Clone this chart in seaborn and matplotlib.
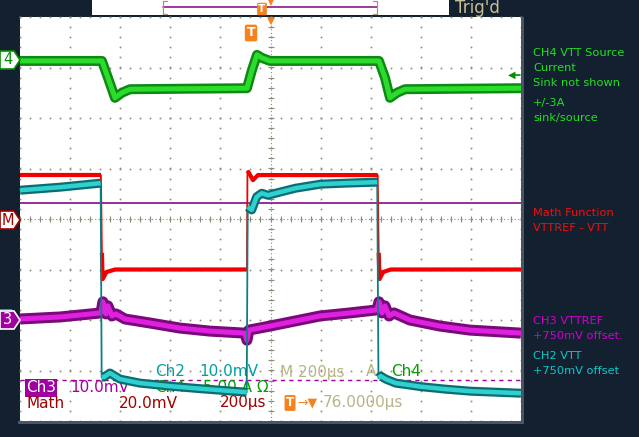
import matplotlib
matplotlib.use('Agg')
import matplotlib.pyplot as plt
from matplotlib.patches import Polygon, Rectangle
import numpy as np
import seaborn as sns

# time axis in microseconds (200 us/div, 10 div); levels in screen divisions (8 div)
ch4_t = [0, 327, 351, 379, 407, 439, 906, 926, 946, 966, 998, 1433, 1457, 1477, 1505, 1537, 2000]
ch4_v = [3.13, 3.13, 2.80, 2.40, 2.50, 2.57, 2.59, 2.95, 3.25, 3.19, 3.13, 3.13, 2.80, 2.40, 2.50, 2.57, 2.59]

math_t = [0, 323, 327, 330, 345, 380, 906, 908, 912, 930, 950, 1428, 1432, 1435, 1450, 1480, 2000]
math_v = [0.87, 0.87, -0.67, -1.19, -1.05, -1.00, -1.00, 0.90, 0.93, 0.77, 0.87, 0.87, -0.67, -1.19, -1.05, -1.00, -1.00]
math_breaks = [326, 907, 1431]

ch2_t = [0, 160, 322, 326, 335, 359, 399, 479, 599, 719, 905, 909, 925, 945, 965, 990, 1020,
         1100, 1200, 1300, 1426, 1431, 1440, 1460, 1500, 1600, 1700, 1800, 2000]
ch2_v = [0.57, 0.63, 0.71, -3.13, -3.13, -3.05, -3.17, -3.25, -3.31, -3.36, -3.43, 0.24, 0.18,
         0.44, 0.51, 0.47, 0.51, 0.61, 0.69, 0.71, 0.73, -3.15, -3.11, -3.17, -3.25, -3.32, -3.37,
         -3.41, -3.45]
ch2_breaks = [324, 907, 1428]

ch3_t = [0, 160, 323, 331, 343, 351, 367, 383, 419, 519, 639, 758, 898, 906, 914, 998, 1118,
         1198, 1317, 1425, 1433, 1445, 1457, 1473, 1493, 1556, 1676, 1796, 2000]
ch3_v = [-1.98, -1.94, -1.86, -1.64, -1.88, -1.72, -1.92, -1.88, -1.98, -2.06, -2.16, -2.22,
         -2.26, -2.40, -2.20, -2.12, -2.00, -1.92, -1.86, -1.80, -1.64, -1.86, -1.72, -1.92,
         -1.86, -2.00, -2.12, -2.20, -2.26]

math_ref = 0.32
ch3_dash = -3.19

W, H = 639, 437
BG = '#13202f'
GRID = '#8c8c78'

sns.set_style('white')
plt.rcParams['font.family'] = ['DejaVu Sans']

fig = plt.figure(figsize=(W / 100, H / 100), dpi=100, facecolor=BG)
ax = fig.add_axes([20 / W, (H - 421) / H, 501 / W, 404 / H])
ax.set_facecolor('white')
ax.set_xlim(0, 2000)
ax.set_ylim(-4, 4)
ax.set_xticks([])
ax.set_yticks([])
for s in ax.spines.values():
    s.set_visible(False)


def fx(x):
    return x / W


def fy(y):
    return 1 - y / H


def pw(p):
    # pixels to points
    return p * 0.72


# graticule
xs_minor = np.arange(0, 2000.1, 40)
ys_minor = np.arange(-4, 4.01, 0.2)
for gx in np.arange(0, 2001, 200):
    ax.plot(np.full_like(ys_minor, gx), ys_minor, ls='none', marker='s', ms=1.2, mew=0,
            color=GRID, zorder=1, clip_on=False)
for gy in np.arange(-4, 4.1, 1):
    ax.plot(xs_minor, np.full_like(xs_minor, gy), ls='none', marker='s', ms=1.2, mew=0,
            color=GRID, zorder=1, clip_on=False)
ax.plot([0, 2000], [0, 0], color=GRID, lw=0.8, ls=(0, (1, 2.2)), zorder=1)
ax.plot([1000, 1000], [-4, 4], color=GRID, lw=0.8, ls=(0, (1, 2.2)), zorder=1)
ax.plot(xs_minor, np.zeros_like(xs_minor), ls='none', marker='|', ms=4, mew=0.8, color=GRID, zorder=1)
ax.plot(np.full_like(ys_minor, 1000), ys_minor, ls='none', marker='_', ms=4, mew=0.8, color=GRID, zorder=1)

# reference lines
ax.axhline(math_ref, color='#800080', lw=pw(1.6), zorder=2)
ax.axhline(ch3_dash, color='#a000a0', lw=pw(1.4), ls=(0, (3, 3)), zorder=2)


def draw_trace(t, v, breaks, edge, core, thin, w_edge, w_core, z):
    t = np.asarray(t, dtype=float)
    v = np.asarray(v, dtype=float)
    seg = np.searchsorted(breaks, t) if breaks else np.zeros(len(t), dtype=int)
    sns.lineplot(x=t, y=v, estimator=None, sort=False, color=thin, linewidth=pw(1.8),
                 ax=ax, zorder=z, legend=False)
    sns.lineplot(x=t, y=v, units=seg, estimator=None, sort=False, color=edge,
                 linewidth=pw(w_edge), ax=ax, zorder=z + 1, legend=False,
                 solid_capstyle='butt')
    if core:
        sns.lineplot(x=t, y=v, units=seg, estimator=None, sort=False, color=core,
                     linewidth=pw(w_core), ax=ax, zorder=z + 2, legend=False,
                     solid_capstyle='butt')


draw_trace(math_t, math_v, math_breaks, '#f00000', None, '#f00000', 4.2, 0, 4)
draw_trace(ch4_t, ch4_v, [], '#0e8a14', '#2cdc2c', '#0e8a14', 10, 5, 7)
draw_trace(ch3_t, ch3_v, [], '#7a0a7a', '#e020e0', '#7a0a7a', 11, 5, 7)
draw_trace(ch2_t, ch2_v, ch2_breaks, '#0a6e70', '#30d0d0', '#0a8080', 9, 4.5, 10)

# bottom readouts inside the graticule
def atext(x, y, s, color, size=11, z=3, **kw):
    ax.text(fx(x), fy(y), s, color=color, fontsize=size, va='center', ha='left',
            transform=fig.transFigure, clip_on=False, zorder=z, **kw)


atext(155, 372, 'Ch2', '#00a0a0')
atext(199, 372, '10.0mV', '#00a0a0')
atext(280, 372, 'M 200µs', '#b8b486')
atext(366, 372, 'A', '#b8b486')
atext(391, 372, 'Ch4', '#00a000')
atext(26, 388, 'Ch3', 'white', bbox=dict(boxstyle='square,pad=0.08', fc='#a000a0', ec='none'))
atext(70, 388, '10.0mV', '#a000a0')
atext(155, 388, 'Ch4', '#00a000')
atext(203, 388, '5.00 A Ω', '#00a000')
atext(27, 403, 'Math', '#a00000')
atext(119, 403, '20.0mV', '#a00000')
atext(220, 403, '200µs', '#a00000')
atext(286, 403, 'T', 'white', size=8.5, weight='bold',
      bbox=dict(boxstyle='round,pad=0.12', fc='#f5821f', ec='none'))
atext(297, 403, '→▼', '#f5821f', size=9)
atext(323, 403, '76.0000µs', '#b8b486')

# frame borders
fig.add_artist(Rectangle((fx(521), fy(424)), 3 / W, 407 / H, transform=fig.transFigure,
                         fc='#4a5563', ec='none'))
fig.add_artist(Rectangle((fx(18), fy(424)), 506 / W, 3 / H, transform=fig.transFigure,
                         fc='#4a5563', ec='none'))

# top record bar
fig.add_artist(Rectangle((fx(92), fy(15)), 357 / W, 15 / H, transform=fig.transFigure,
                         fc='white', ec='none'))
fig.add_artist(plt.Line2D([fx(163), fx(377)], [fy(7), fy(7)], transform=fig.transFigure,
                          color='#800080', lw=pw(1.5)))
for bx, d in [(163, 4), (377, -4)]:
    fig.add_artist(plt.Line2D([fx(bx + d), fx(bx), fx(bx), fx(bx + d)],
                              [fy(1), fy(1), fy(14), fy(14)], transform=fig.transFigure,
                              color='#a09870', lw=pw(1.2)))
fig.text(fx(262), fy(9), 'T', color='white', fontsize=7.5, weight='bold', ha='center', va='center',
         bbox=dict(boxstyle='round,pad=0.12', fc='#f5821f', ec='none'))
fig.text(fx(271), fy(3), '▼', color='#f5821f', fontsize=5.5, ha='center', va='center')
fig.text(fx(455), fy(8), "Trig'd", color='#c8c090', fontsize=12, ha='left', va='center')

# trigger markers under the bar
fig.text(fx(271), fy(21), '▼', color='#f5821f', fontsize=7.5, ha='center', va='center', zorder=5)
fig.text(fx(251), fy(33), 'T', color='white', fontsize=9, weight='bold', ha='center', va='center',
         zorder=5, bbox=dict(boxstyle='round,pad=0.15', fc='#f5821f', ec='none'))

# left channel markers
def marker(y, fc, ec, label, tc):
    pts = [(0, y - 9), (14, y - 9), (20, y), (14, y + 9), (0, y + 9)]
    fig.add_artist(Polygon([(fx(a), fy(b)) for a, b in pts], closed=True,
                           transform=fig.transFigure, fc=fc, ec=ec, lw=1.2))
    fig.text(fx(8), fy(y), label, color=tc, fontsize=10.5, ha='center', va='center')


marker(60, 'white', '#009000', '4', '#009000')
marker(220, 'white', '#a00000', 'M', '#a00000')
fig.add_artist(Rectangle((fx(0), fy(311)), 12 / W, 2 / H, transform=fig.transFigure,
                         fc='#20a0a0', ec='none'))
marker(320, '#a000a0', 'white', '3', 'white')

# ground marker for ch4 on the right
fig.add_artist(plt.Line2D([fx(512), fx(520)], [fy(75), fy(75)], transform=fig.transFigure,
                          color='#009000', lw=1.2))
fig.text(fx(512), fy(75), '◀', color='#009000', fontsize=7, ha='center', va='center')

# side notes
def side(y, s, color):
    fig.text(fx(533), fy(y), s, color=color, fontsize=8.2, ha='left', va='center')


side(53, 'CH4 VTT Source', '#22e022')
side(68, 'Current', '#22e022')
side(83, 'Sink not shown', '#22e022')
side(103, '+/-3A', '#22e022')
side(118, 'sink/source', '#22e022')
side(213, 'Math Function', '#f01010')
side(228, 'VTTREF - VTT', '#f01010')
side(321, 'CH3 VTTREF', '#d000d0')
side(336, '+750mV offset.', '#d000d0')
side(356, 'CH2 VTT', '#10c8c8')
side(371, '+750mV offset', '#10c8c8')

fig.savefig('out.png', dpi=100, facecolor=fig.get_facecolor())
